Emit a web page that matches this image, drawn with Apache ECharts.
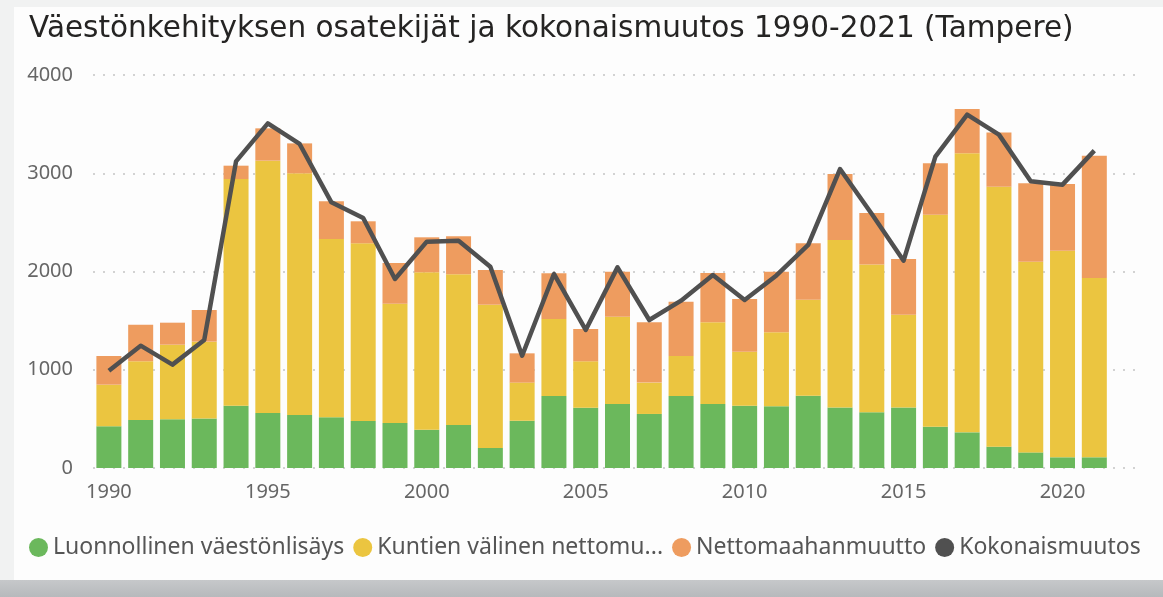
<!DOCTYPE html>
<html>
<head>
<meta charset="utf-8">
<title>Väestönkehityksen osatekijät</title>
<script src="https://cdn.jsdelivr.net/npm/echarts@6/dist/echarts.min.js"></script>
<style>
  html, body { margin: 0; padding: 0; background: #f1f2f2; }
  #chart { width: 1163px; height: 597px; }
</style>
</head>
<body>
<div id="chart"></div>
<script>
// vuodet (viimeinen tyhjä paikka jättää tilaa oikealle kuten alkuperäisessä)
const years = [1990, 1991, 1992, 1993, 1994, 1995, 1996, 1997, 1998, 1999,
  2000, 2001, 2002, 2003, 2004, 2005, 2006, 2007, 2008, 2009,
  2010, 2011, 2012, 2013, 2014, 2015, 2016, 2017, 2018, 2019, 2020, 2021]
const xCategories = [...years.map(String), '']

// osatekijät (luettu kuvasta)
const luonnollinen = [424, 489, 495, 505, 634, 560, 539, 516, 478, 458,
  390, 438, 204, 482, 733, 614, 651, 550, 733, 651,
  634, 628, 736, 617, 567, 617, 421, 363, 217, 159, 109, 109]
const kuntienValinen = [424, 597, 760, 781, 2307, 2568, 2460, 1815, 1809, 1215,
  1602, 1533, 1458, 387, 784, 472, 889, 319, 407, 832,
  550, 753, 977, 1704, 1503, 944, 2157, 2840, 2646, 1941, 2103, 1825]
const nettomaahanmuutto = [292, 373, 224, 322, 136, 329, 305, 383, 224, 414,
  356, 387, 353, 298, 464, 329, 458, 614, 553, 502,
  536, 617, 574, 671, 525, 566, 523, 451, 553, 797, 679, 1245]
const kokonaismuutos = [990, 1245, 1052, 1303, 3121, 3508, 3298, 2704, 2545, 1924,
  2304, 2314, 2049, 1143, 1975, 1405, 2042, 1506, 1703, 1964,
  1710, 1960, 2270, 3043, 2585, 2110, 3169, 3596, 3393, 2918, 2884, 3230]

const yTicks = [0, 1000, 2000, 3000, 4000]
const seriesNames = ['Luonnollinen väestönlisäys', 'Kuntien välinen nettomuutto', 'Nettomaahanmuutto', 'Kokonaismuutos']

const font = '"Noto Sans", "DejaVu Sans", sans-serif'

const chart = echarts.init(document.getElementById('chart'))

const barBase = {
  type: 'bar',
  stack: 'osat',
  barWidth: 25,
  emphasis: { disabled: true }
}

chart.setOption({
  animation: false,
  backgroundColor: '#f1f2f2',
  graphic: [
    // kortin tausta
    {
      type: 'rect',
      shape: { x: 14, y: 7, width: 1160, height: 573 },
      style: { fill: '#fdfdfd' },
      z: -10
    },
    // varjo kortin alla
    {
      type: 'rect',
      shape: { x: 0, y: 580, width: 1163, height: 17 },
      style: {
        fill: new echarts.graphic.LinearGradient(0, 0, 0, 1, [
          { offset: 0, color: '#c6c8ca' },
          { offset: 1, color: '#b6b9bc' }
        ])
      },
      z: -10
    }
  ],
  title: {
    text: 'Väestönkehityksen osatekijät ja kokonaismuutos 1990-2021 (Tampere)',
    left: 24,
    top: 9,
    textStyle: { fontFamily: '"DejaVu Sans", sans-serif', fontSize: 29.5, fontWeight: 'normal', color: '#252423' }
  },
  legend: {
    left: 24,
    top: 531,
    itemWidth: 19,
    itemHeight: 19,
    itemGap: 9,
    data: seriesNames.map(n => ({ name: n, icon: 'circle' })),
    formatter: n => n === 'Kuntien välinen nettomuutto' ? 'Kuntien välinen nettomu...' : n,
    textStyle: { fontFamily: font, fontSize: 23, color: '#555555' }
  },
  grid: { left: 93, right: 21, top: 75, bottom: 129 },
  xAxis: {
    type: 'category',
    data: xCategories,
    axisLine: { show: false },
    axisTick: { show: false },
    axisLabel: {
      margin: 14,
      fontFamily: font,
      fontSize: 20,
      color: '#666666',
      interval: (i, v) => v !== '' && Number(v) % 5 === 0
    }
  },
  yAxis: {
    type: 'value',
    min: yTicks[0],
    max: yTicks[yTicks.length - 1],
    interval: 1000,
    axisLine: { show: false },
    axisTick: { show: false },
    axisLabel: { margin: 20, fontFamily: font, fontSize: 20, color: '#666666', formatter: v => String(v) },
    splitLine: { lineStyle: { type: [2, 8], color: '#c4c4c4', width: 1.5 } }
  },
  series: [
    { ...barBase, name: seriesNames[0], itemStyle: { color: '#6bb85c' }, data: luonnollinen },
    { ...barBase, name: seriesNames[1], itemStyle: { color: '#ebc540' }, data: kuntienValinen },
    { ...barBase, name: seriesNames[2], itemStyle: { color: '#ee9c5f' }, data: nettomaahanmuutto },
    {
      type: 'line',
      name: seriesNames[3],
      data: kokonaismuutos,
      showSymbol: false,
      symbol: 'circle',
      itemStyle: { color: '#505050' },
      lineStyle: { color: '#505050', width: 4.5, join: 'round' },
      z: 5
    }
  ]
})
</script>
</body>
</html>
